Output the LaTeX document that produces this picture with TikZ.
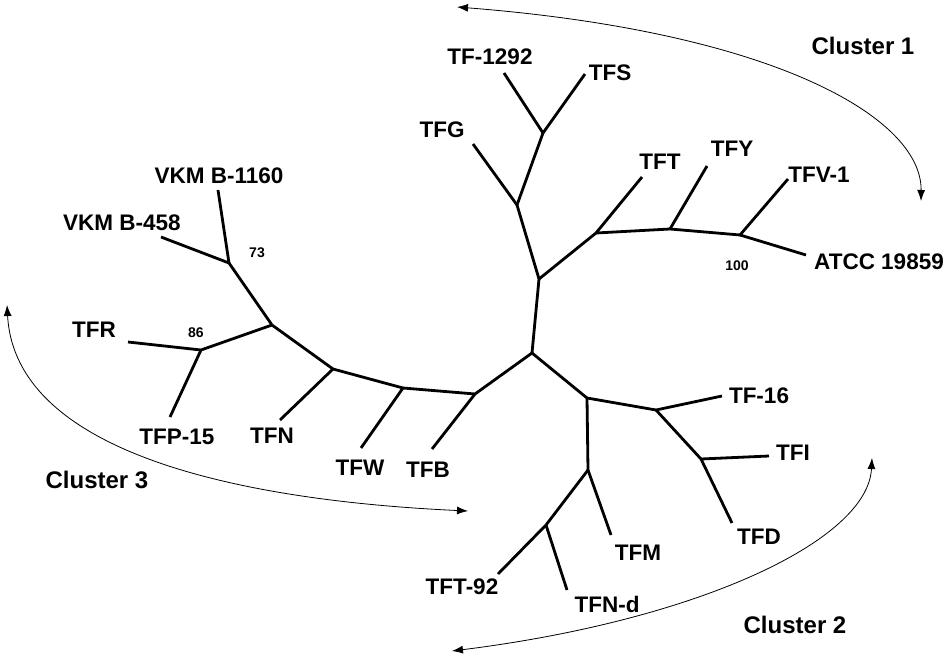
\documentclass[tikz,border=0pt]{standalone}
\usepackage{fontspec}
\setmainfont{Liberation Sans}
\usetikzlibrary{arrows.meta}
\tikzset {
    branch/.style = {
        draw,
        line width=2.8pt,
        line join=round
    },
    leaf/.style = {
        inner sep=0pt,
        font={\fontsize{22.5}{24}\selectfont\bfseries} % every strain name in bold
    },
    bootstrap/.style = {
        inner sep=0pt,
        font={\fontsize{14}{16}\selectfont\bfseries}
    },
    cluster/.style = {
        inner sep=0pt,
        font={\fontsize{24}{26}\selectfont\bfseries}
    },
    cluster arrow/.style = {
        draw,
        line width=0.8pt,
        {Latex[length=11pt,width=8pt]}-{Latex[length=11pt,width=8pt]}
    }
}

\begin{document}
\begin{tikzpicture}[x=1pt, y=-1pt]
        \useasboundingbox (0, 0) rectangle (948, 658);

        % Inner nodes of the tree
        \coordinate (root)  at (532, 353);
        \coordinate (n1)    at (539, 279);
        \coordinate (n2)    at (517, 205);
        \coordinate (n3)    at (543, 133);
        \coordinate (n4)    at (596, 233);
        \coordinate (n5)    at (670, 229);
        \coordinate (n6)    at (740, 235);
        \coordinate (n7)    at (475, 394);
        \coordinate (n8)    at (587, 398);
        \coordinate (n9)    at (588, 470);
        \coordinate (n10)   at (546, 525);
        \coordinate (n11)   at (656, 410);
        \coordinate (n12)   at (701, 459);
        \coordinate (n13)   at (229, 263);
        \coordinate (n14)   at (272, 325);
        \coordinate (n15)   at (201, 350);
        \coordinate (n16)   at (333, 369);
        \coordinate (n17)   at (403, 388);

        % Tips of the tree (cluster 1)
        \coordinate (tfg)   at (473, 144);
        \coordinate (tf1292) at (504, 73);
        \coordinate (tfs)   at (585, 74);
        \coordinate (tft)   at (642, 177);
        \coordinate (tfy)   at (707, 166);
        \coordinate (tfv)   at (788, 179);
        \coordinate (atcc)  at (806, 255);

        % Tips of the tree (cluster 2)
        \coordinate (tfm)   at (611, 535);
        \coordinate (tft92) at (498, 574);
        \coordinate (tfnd)  at (567, 590);
        \coordinate (tf16)  at (722, 396);
        \coordinate (tfi)   at (769, 456);
        \coordinate (tfd)   at (732, 523);

        % Tips of the tree (cluster 3)
        \coordinate (tfb)   at (432, 449);
        \coordinate (tfw)   at (361, 448);
        \coordinate (tfn)   at (280, 420);
        \coordinate (tfr)   at (128, 342);
        \coordinate (tfp)   at (170, 417);
        \coordinate (vkm458)  at (161, 237);
        \coordinate (vkm1160) at (218, 190);

        % Strain names
        \node [leaf] at (490, 57)   (ltf1292)   {TF-1292};
        \node [leaf] at (610, 73)   (ltfs)      {TFS};
        \node [leaf] at (442, 130)  (ltfg)      {TFG};
        \node [leaf] at (660, 162)  (ltft)      {TFT};
        \node [leaf] at (732, 149)  (ltfy)      {TFY};
        \node [leaf] at (819, 175)  (ltfv)      {TFV-1};
        \node [leaf] at (879, 262)  (latcc)     {ATCC 19859};
        \node [leaf] at (759, 396)  (ltf16)     {TF-16};
        \node [leaf] at (793, 453)  (ltfi)      {TFI};
        \node [leaf] at (759, 537)  (ltfd)      {TFD};
        \node [leaf] at (638, 553)  (ltfm)      {TFM};
        \node [leaf] at (607, 604)  (ltfnd)     {TFN-d};
        \node [leaf] at (462, 587)  (ltft92)    {TFT-92};
        \node [leaf] at (428, 470)  (ltfb)      {TFB};
        \node [leaf] at (360, 468)  (ltfw)      {TFW};
        \node [leaf] at (272, 436)  (ltfn)      {TFN};
        \node [leaf] at (177, 437)  (ltfp)      {TFP-15};
        \node [leaf] at (94, 330)   (ltfr)      {TFR};
        \node [leaf] at (122, 223)  (lvkm458)   {VKM B-458};
        \node [leaf] at (219, 176)  (lvkm1160)  {VKM B-1160};

        % Bootstrap values
        \node [bootstrap] at (257, 253) (b73)  {73};
        \node [bootstrap] at (196, 333) (b86)  {86};
        \node [bootstrap] at (737, 266) (b100) {100};

        % Clusters
        \node [cluster] at (863, 46)  (cl1) {Cluster 1};
        \node [cluster] at (795, 625) (cl2) {Cluster 2};
        \node [cluster] at (97, 480)  (cl3) {Cluster 3};
        \coordinate (c1a) at (457, 7);
        \coordinate (c1b) at (921, 201);
        \coordinate (c2a) at (452, 651);
        \coordinate (c2b) at (872, 458);
        \coordinate (c3a) at (7, 305);
        \coordinate (c3b) at (468, 511);

        \path [branch]  (root)  --  (n1);
        \path [branch]  (root)  --  (n7);
        \path [branch]  (root)  --  (n8);

        \path [branch]  (n1)    --  (n2);
        \path [branch]  (n2)    --  (tfg);
        \path [branch]  (n2)    --  (n3);
        \path [branch]  (n3)    --  (tf1292);
        \path [branch]  (n3)    --  (tfs);
        \path [branch]  (n1)    --  (n4);
        \path [branch]  (n4)    --  (tft);
        \path [branch]  (n4)    --  (n5);
        \path [branch]  (n5)    --  (tfy);
        \path [branch]  (n5)    --  (n6);
        \path [branch]  (n6)    --  (tfv);
        \path [branch]  (n6)    --  (atcc);

        \path [branch]  (n8)    --  (n9);
        \path [branch]  (n9)    --  (tfm);
        \path [branch]  (n9)    --  (n10);
        \path [branch]  (n10)   --  (tft92);
        \path [branch]  (n10)   --  (tfnd);
        \path [branch]  (n8)    --  (n11);
        \path [branch]  (n11)   --  (tf16);
        \path [branch]  (n11)   --  (n12);
        \path [branch]  (n12)   --  (tfi);
        \path [branch]  (n12)   --  (tfd);

        \path [branch]  (n7)    --  (tfb);
        \path [branch]  (n7)    --  (n17);
        \path [branch]  (n17)   --  (tfw);
        \path [branch]  (n17)   --  (n16);
        \path [branch]  (n16)   --  (tfn);
        \path [branch]  (n16)   --  (n14);
        \path [branch]  (n14)   --  (n15);
        \path [branch]  (n15)   --  (tfr);
        \path [branch]  (n15)   --  (tfp);
        \path [branch]  (n14)   --  (n13);
        \path [branch]  (n13)   --  (vkm458);
        \path [branch]  (n13)   --  (vkm1160);

        \path [cluster arrow] (c1a) .. controls (775, 32) and (922, 118) .. (c1b);
        \path [cluster arrow] (c2a) .. controls (700, 620) and (868, 540) .. (c2b);
        \path [cluster arrow] (c3a) .. controls (15, 450) and (230, 500) .. (c3b);
\end{tikzpicture}
\end{document}
